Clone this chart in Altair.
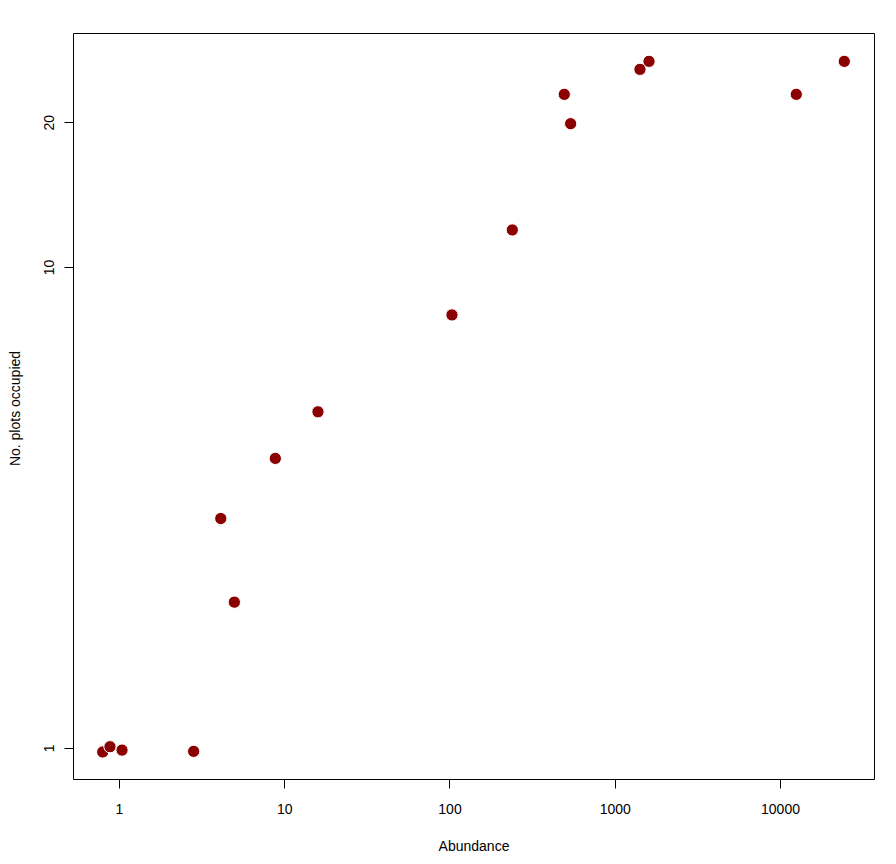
import altair as alt
import pandas as pd

abundance = [0.797, 0.882, 1.043, 2.83, 4.13, 4.99, 8.83, 16.0, 103.5, 239.9,
             495, 541, 1421, 1612, 12550, 24500]
plots_occupied = [0.981, 1.006, 0.990, 0.984, 3.00, 2.01, 4.00, 5.00, 7.95, 11.94,
                  22.86, 19.86, 25.76, 26.77, 22.86, 26.77]
x_ticks = [1, 10, 100, 1000, 10000]
y_ticks = [1, 10, 20]

df = pd.DataFrame({"Abundance": abundance, "Plots": plots_occupied})

FONT = "Liberation Sans"

chart = alt.Chart(df).mark_circle(
    size=150, color="#8B0000", opacity=1, stroke="white", strokeWidth=1
).encode(
    x=alt.X(
        "Abundance:Q",
        scale=alt.Scale(type="log", domain=[0.5268, 37060], nice=False, zero=False),
        axis=alt.Axis(
            values=x_ticks, format="d", title="Abundance", grid=False, domain=False,
            tickSize=9, tickColor="black", tickWidth=1,
            labelPadding=25, labelBaseline="alphabetic", labelFont=FONT, labelFontSize=14,
            labelColor="black", labelFlush=False, labelOverlap=False,
            titleFont=FONT, titleFontSize=14, titleFontWeight="normal", titleColor="black",
            titleBaseline="alphabetic", titleY=71, titleX=400.5, titleAlign="center",
        ),
    ),
    y=alt.Y(
        "Plots:Q",
        scale=alt.Scale(type="log", domain=[0.862, 30.66], nice=False, zero=False),
        axis=alt.Axis(
            values=y_ticks, format="d", title="No. plots occupied", grid=False, domain=False,
            tickSize=9, tickColor="black", tickWidth=1,
            labelAngle=-90, labelAlign="center", labelBaseline="alphabetic",
            labelPadding=11, labelFont=FONT, labelFontSize=14, labelColor="black",
            labelFlush=False, labelOverlap=False,
            titleFont=FONT, titleFontSize=14, titleFontWeight="normal", titleColor="black",
            titleAngle=-90, titleBaseline="alphabetic", titleAlign="center",
            titleX=-54, titleY=375,
        ),
    ),
).properties(
    width=801,
    height=746,
    autosize=alt.AutoSizeParams(type="none"),
    padding={"left": 65, "top": 25, "right": 10, "bottom": 82},
).configure(
    background="white",
    view=alt.ViewConfig(stroke="black", strokeWidth=1, fill="white", strokeOpacity=1),
)

chart.save("out.html", embed_options={"renderer": "svg", "actions": False})
